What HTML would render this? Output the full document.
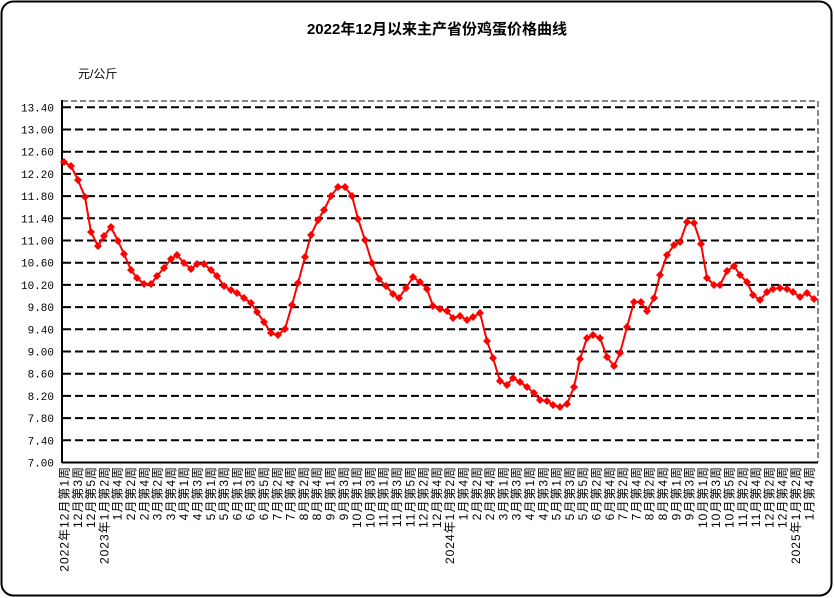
<!DOCTYPE html>
<html><head><meta charset="utf-8"><style>
html,body{margin:0;padding:0;background:#fff;}
svg{display:block;font-family:"Liberation Sans","Noto Sans CJK SC",sans-serif;}
</style></head><body>
<svg id="c" width="834" height="598" viewBox="0 0 834 598" xmlns="http://www.w3.org/2000/svg">
<rect x="1.5" y="1.5" width="830" height="594" rx="12" fill="#fff" stroke="#000" stroke-width="2"/>
<text x="437" y="34" text-anchor="middle" font-size="15" font-weight="bold">2022年12月以来主产省份鸡蛋价格曲线</text>
<text x="78" y="78" font-size="12" font-family="Liberation Sans,'Noto Sans CJK SC',sans-serif">元/公斤</text>
<g id="grid"></g>
<line x1="62" y1="101" x2="818" y2="101" stroke="#888" stroke-width="2" stroke-dasharray="6,3"/>
<line x1="818" y1="101" x2="818" y2="462" stroke="#888" stroke-width="2" stroke-dasharray="6,3"/>
<line x1="62" y1="100" x2="62" y2="463" stroke="#000" stroke-width="2"/>
<line x1="62" y1="462.5" x2="818" y2="462.5" stroke="#000" stroke-width="2"/>
<g id="xl" font-size="12" letter-spacing="1"></g>
<g id="ser"></g>
</svg>
<script>
var ns="http://www.w3.org/2000/svg";
function el(t,a,p,txt){var e=document.createElementNS(ns,t);for(var k in a)e.setAttribute(k,a[k]);if(txt!==undefined)e.textContent=txt;p.appendChild(e);return e;}
var g=document.getElementById('grid');
for(var i=0;i<=16;i++){var v=7+i*0.4;var y=462.5-i*22.2;
 if(i>0)el('line',{x1:63,y1:y,x2:818,y2:y,stroke:'#000','stroke-width':2,'stroke-dasharray':'8,4'},g);
 el('text',{x:54,y:y+4,'text-anchor':'end','font-size':11,'font-family':'Liberation Mono,monospace'},g,v.toFixed(2));}
var labs=["2022年12月第1周","12月第3周","12月第5周","2023年1月第2周","1月第4周","2月第2周","2月第4周","3月第2周","3月第4周","4月第1周","4月第3周","5月第1周","5月第3周","6月第1周","6月第3周","6月第5周","7月第2周","7月第4周","8月第2周","8月第4周","9月第1周","9月第3周","10月第1周","10月第3周","11月第1周","11月第3周","11月第5周","12月第2周","12月第4周","2024年1月第2周","1月第4周","2月第2周","2月第4周","3月第1周","3月第3周","4月第1周","4月第3周","5月第1周","5月第3周","5月第5周","6月第2周","6月第4周","7月第2周","7月第4周","8月第2周","8月第4周","9月第1周","9月第3周","10月第1周","10月第3周","10月第5周","11月第2周","11月第4周","12月第2周","12月第4周","2025年1月第2周","1月第4周"];
var xl=document.getElementById('xl');
labs.forEach(function(s,i){var x=64+i*13.3+4.5;el('text',{x:0,y:0,'text-anchor':'end',transform:'translate('+x+',466) rotate(-90)'},xl,s);});
var pts=[[64,162],[71,166],[78,180],[85,197],[91,232],[98,246],[104,236],[111,227],[118,241],[124,254],[131,270],[137,278],[144,284],[151,284],[157,276],[164,268],[171,259],[177,255],[184,263],[191,269],[197,264],[204,264],[211,270],[217,276],[224,286],[231,290],[237,293],[244,298],[251,303],[257,312],[264,322],[271,333],[278,335],[285,329],[292,305],[298,283],[305,257],[311,235],[318,220],[324,210],[331,196],[338,187],[345,187],[352,196],[358,219],[365,240],[372,263],[379,279],[386,286],[393,294],[399,298],[406,288],[413,277],[420,282],[427,289],[433,306],[440,309],[447,311],[453,318],[460,316],[467,320],[473,317],[480,313],[487,341],[493,358],[500,381],[507,385],[513,378],[520,382],[527,387],[534,393],[540,400],[547,401],[553,405],[560,407],[567,404],[574,387],[580,359],[587,338],[593,335],[600,338],[607,357],[614,366],[620,353],[627,327],[634,302],[641,302],[647,311],[654,298],[660,275],[667,255],[674,245],[680,242],[687,222],[694,223],[701,244],[707,278],[714,285],[720,285],[727,271],[734,266],[740,275],[747,282],[753,295],[760,300],[767,292],[773,289],[780,288],[787,289],[793,292],[800,297],[807,293],[814,299]];
var s=document.getElementById('ser');
el('polyline',{points:pts.map(function(p){return p.join(',')}).join(' '),fill:'none',stroke:'#f00','stroke-width':2},s);
pts.forEach(function(p){el('path',{d:'M'+p[0]+','+(p[1]-4)+'L'+(p[0]+4)+','+p[1]+'L'+p[0]+','+(p[1]+4)+'L'+(p[0]-4)+','+p[1]+'Z',fill:'#f00'},s);});
</script>
</body></html>
